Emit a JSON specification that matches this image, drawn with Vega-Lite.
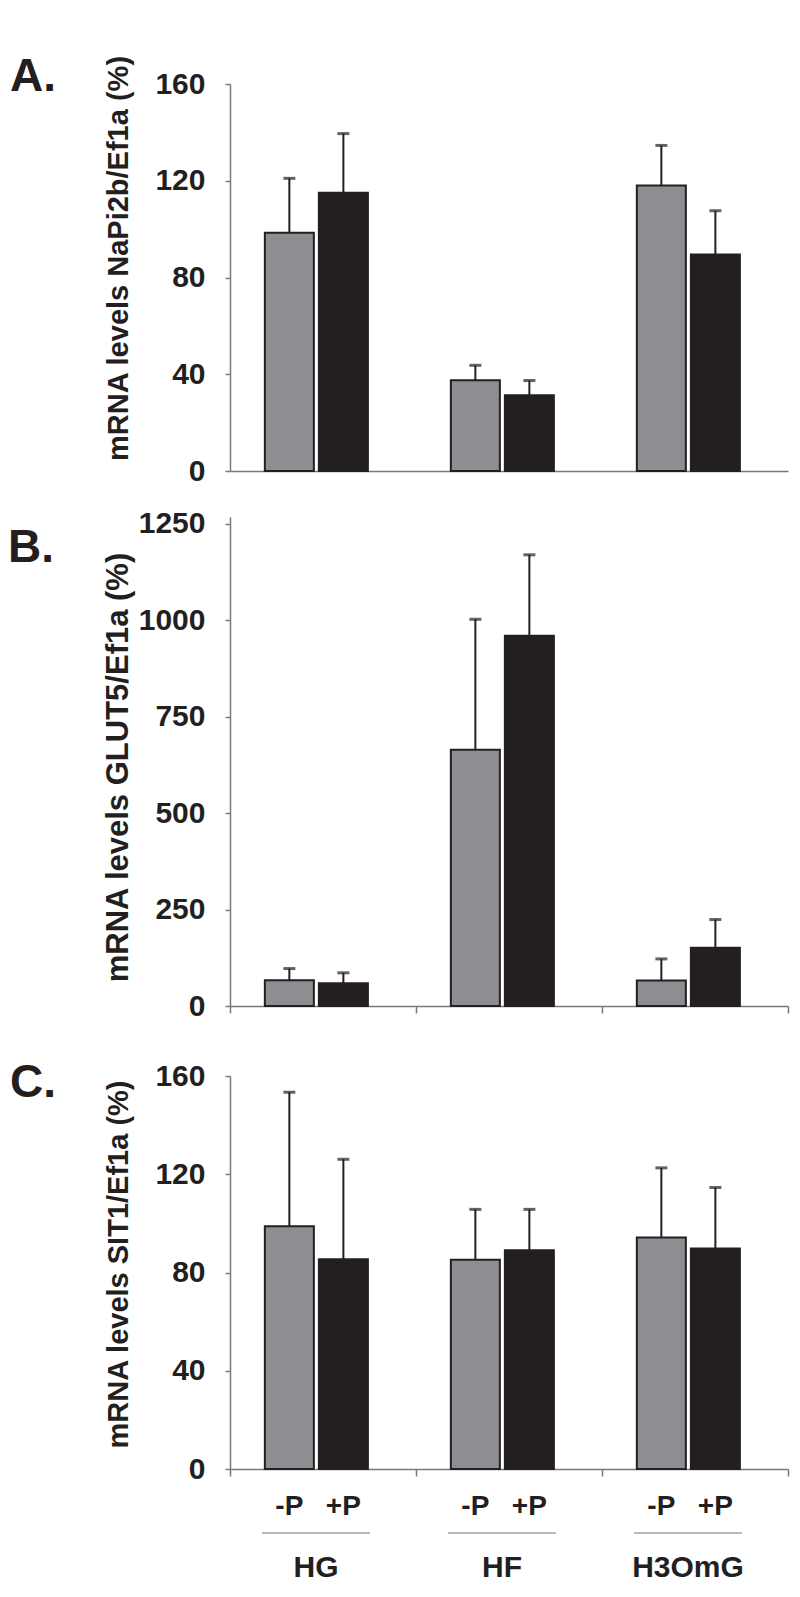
{
  "$schema": "https://vega.github.io/schema/vega-lite/v6.json",
  "padding": {"left": 7, "top": 53, "right": 5, "bottom": 5},
  "background": "white",
  "config": {
    "font": "Liberation Sans",
    "view": {"stroke": null},
    "axis": {
      "labelFont": "Liberation Sans", "labelFontWeight": "bold", "labelFontSize": 30, "labelColor": "#231f20",
      "titleFont": "Liberation Sans", "titleFontWeight": "bold", "titleColor": "#231f20",
      "domainColor": "#7a7a7a", "tickColor": "#7a7a7a", "domainWidth": 1.5, "tickWidth": 1.5, "grid": false
    },
    "title": {
      "font": "Liberation Sans", "fontWeight": "bold", "fontSize": 46, "color": "#231f20",
      "orient": "left", "anchor": "end", "angle": 0, "align": "right", "baseline": "top",
      "frame": "bounds", "offset": 2
    }
  },
  "datasets": {
    "napi": [
      {"diet": "HG", "cond": "-P", "mean": 98.5, "upper": 121},
      {"diet": "HG", "cond": "+P", "mean": 115, "upper": 139.5},
      {"diet": "HF", "cond": "-P", "mean": 37.5, "upper": 43.7},
      {"diet": "HF", "cond": "+P", "mean": 31.3, "upper": 37.4},
      {"diet": "H3OmG", "cond": "-P", "mean": 118, "upper": 134.6},
      {"diet": "H3OmG", "cond": "+P", "mean": 89.5, "upper": 107.6}
    ],
    "glut": [
      {"diet": "HG", "cond": "-P", "mean": 67, "upper": 97},
      {"diet": "HG", "cond": "+P", "mean": 59, "upper": 86},
      {"diet": "HF", "cond": "-P", "mean": 664, "upper": 1002},
      {"diet": "HF", "cond": "+P", "mean": 959, "upper": 1169},
      {"diet": "H3OmG", "cond": "-P", "mean": 66, "upper": 122},
      {"diet": "H3OmG", "cond": "+P", "mean": 151, "upper": 224}
    ],
    "sit": [
      {"diet": "HG", "cond": "-P", "mean": 98.8, "upper": 153.4},
      {"diet": "HG", "cond": "+P", "mean": 85.4, "upper": 126.1},
      {"diet": "HF", "cond": "-P", "mean": 85.2, "upper": 105.7},
      {"diet": "HF", "cond": "+P", "mean": 89.1, "upper": 105.7},
      {"diet": "H3OmG", "cond": "-P", "mean": 94.2, "upper": 122.6},
      {"diet": "H3OmG", "cond": "+P", "mean": 89.8, "upper": 114.6}
    ],
    "condlabels": [
      {"diet": "HG", "cond": "-P"}, {"diet": "HG", "cond": "+P"},
      {"diet": "HF", "cond": "-P"}, {"diet": "HF", "cond": "+P"},
      {"diet": "H3OmG", "cond": "-P"}, {"diet": "H3OmG", "cond": "+P"}
    ],
    "diets": [{"diet": "HG"}, {"diet": "HF"}, {"diet": "H3OmG"}]
  },
  "vconcat": [
    {
      "spacing": 22,
      "vconcat": [
        {
          "data": {"name": "napi"},
          "width": 558, "height": 387,
          "title": {"text": "A."},
          "encoding": {
            "x": {"field": "diet", "type": "nominal", "sort": ["HG", "HF", "H3OmG"],
                  "scale": {"paddingInner": 0, "paddingOuter": 0},
                  "axis": {"title": null, "labels": false, "ticks": false}},
            "xOffset": {"field": "cond", "type": "nominal", "sort": ["-P", "+P"],
                        "scale": {"paddingInner": 0.0926, "paddingOuter": 0.768, "align": 0.42}}
          },
          "layer": [
            {
              "mark": {"type": "bar", "stroke": "#231f20", "strokeWidth": 2},
              "encoding": {
                "y": {"field": "mean", "type": "quantitative", "scale": {"domain": [0, 160]},
                      "axis": {"title": "mRNA levels NaPi2b/Ef1a (%)", "values": [0, 40, 80, 120, 160], "format": "d",
                               "tickSize": 5, "labelPadding": 20, "titleFontSize": 29, "titleX": -103, "titleY": 174,
                               "titleBaseline": "alphabetic", "titleAngle": -90, "titleAlign": "center"}},
                "color": {"field": "cond", "type": "nominal", "scale": {"domain": ["-P", "+P"], "range": ["#8d8e91", "#231f20"]}, "legend": null}
              }
            },
            {
              "mark": {"type": "rule", "color": "#231f20", "strokeWidth": 2},
              "encoding": {"y": {"field": "mean", "type": "quantitative",
                      "axis": {"title": "mRNA levels NaPi2b/Ef1a (%)", "values": [0, 40, 80, 120, 160], "format": "d",
                               "tickSize": 5, "labelPadding": 20, "titleFontSize": 29, "titleX": -103, "titleY": 174,
                               "titleBaseline": "alphabetic", "titleAngle": -90, "titleAlign": "center"}}, "y2": {"field": "upper"}}
            },
            {
              "mark": {"type": "tick", "color": "#231f20", "thickness": 3, "size": 12},
              "encoding": {"y": {"field": "upper", "type": "quantitative",
                      "axis": {"title": "mRNA levels NaPi2b/Ef1a (%)", "values": [0, 40, 80, 120, 160], "format": "d",
                               "tickSize": 5, "labelPadding": 20, "titleFontSize": 29, "titleX": -103, "titleY": 174,
                               "titleBaseline": "alphabetic", "titleAngle": -90, "titleAlign": "center"}}}
            }
          ]
        },
        {
          "data": {"name": "glut"},
          "width": 558, "height": 489,
          "title": {"text": "B.", "dy": 17},
          "encoding": {
            "x": {"field": "diet", "type": "nominal", "sort": ["HG", "HF", "H3OmG"],
                  "scale": {"paddingInner": 0, "paddingOuter": 0},
                  "axis": {"title": null, "labels": false, "ticks": true, "tickBand": "extent", "tickSize": 7}},
            "xOffset": {"field": "cond", "type": "nominal", "sort": ["-P", "+P"],
                        "scale": {"paddingInner": 0.0926, "paddingOuter": 0.768, "align": 0.42}}
          },
          "layer": [
            {
              "mark": {"type": "bar", "stroke": "#231f20", "strokeWidth": 2},
              "encoding": {
                "y": {"field": "mean", "type": "quantitative", "scale": {"domain": [0, 1267], "nice": false},
                      "axis": {"title": "mRNA levels GLUT5/Ef1a (%)", "values": [0, 250, 500, 750, 1000, 1250], "format": "d",
                               "tickSize": 5, "labelPadding": 20, "titleFontSize": 31, "titleX": -103, "titleY": 250,
                               "titleBaseline": "alphabetic", "titleAngle": -90, "titleAlign": "center"}},
                "color": {"field": "cond", "type": "nominal", "scale": {"domain": ["-P", "+P"], "range": ["#8d8e91", "#231f20"]}, "legend": null}
              }
            },
            {
              "mark": {"type": "rule", "color": "#231f20", "strokeWidth": 2},
              "encoding": {"y": {"field": "mean", "type": "quantitative",
                      "axis": {"title": "mRNA levels GLUT5/Ef1a (%)", "values": [0, 250, 500, 750, 1000, 1250], "format": "d",
                               "tickSize": 5, "labelPadding": 20, "titleFontSize": 31, "titleX": -103, "titleY": 250,
                               "titleBaseline": "alphabetic", "titleAngle": -90, "titleAlign": "center"}}, "y2": {"field": "upper"}}
            },
            {
              "mark": {"type": "tick", "color": "#231f20", "thickness": 3, "size": 12},
              "encoding": {"y": {"field": "upper", "type": "quantitative",
                      "axis": {"title": "mRNA levels GLUT5/Ef1a (%)", "values": [0, 250, 500, 750, 1000, 1250], "format": "d",
                               "tickSize": 5, "labelPadding": 20, "titleFontSize": 31, "titleX": -103, "titleY": 250,
                               "titleBaseline": "alphabetic", "titleAngle": -90, "titleAlign": "center"}}}
            }
          ]
        }
      ]
    },
    {
      "spacing": 9,
      "vconcat": [
        {
          "data": {"name": "sit"},
          "width": 558, "height": 393,
          "title": {"text": "C."},
          "encoding": {
            "x": {"field": "diet", "type": "nominal", "sort": ["HG", "HF", "H3OmG"],
                  "scale": {"paddingInner": 0, "paddingOuter": 0},
                  "axis": {"title": null, "labels": false, "ticks": true, "tickBand": "extent", "tickSize": 7}},
            "xOffset": {"field": "cond", "type": "nominal", "sort": ["-P", "+P"],
                        "scale": {"paddingInner": 0.0926, "paddingOuter": 0.768, "align": 0.42}}
          },
          "layer": [
            {
              "mark": {"type": "bar", "stroke": "#231f20", "strokeWidth": 2},
              "encoding": {
                "y": {"field": "mean", "type": "quantitative", "scale": {"domain": [0, 160]},
                      "axis": {"title": "mRNA levels SIT1/Ef1a (%)", "values": [0, 40, 80, 120, 160], "format": "d",
                               "tickSize": 5, "labelPadding": 20, "titleFontSize": 29, "titleX": -103, "titleY": 188,
                               "titleBaseline": "alphabetic", "titleAngle": -90, "titleAlign": "center"}},
                "color": {"field": "cond", "type": "nominal", "scale": {"domain": ["-P", "+P"], "range": ["#8d8e91", "#231f20"]}, "legend": null}
              }
            },
            {
              "mark": {"type": "rule", "color": "#231f20", "strokeWidth": 2},
              "encoding": {"y": {"field": "mean", "type": "quantitative",
                      "axis": {"title": "mRNA levels SIT1/Ef1a (%)", "values": [0, 40, 80, 120, 160], "format": "d",
                               "tickSize": 5, "labelPadding": 20, "titleFontSize": 29, "titleX": -103, "titleY": 188,
                               "titleBaseline": "alphabetic", "titleAngle": -90, "titleAlign": "center"}}, "y2": {"field": "upper"}}
            },
            {
              "mark": {"type": "tick", "color": "#231f20", "thickness": 3, "size": 12},
              "encoding": {"y": {"field": "upper", "type": "quantitative",
                      "axis": {"title": "mRNA levels SIT1/Ef1a (%)", "values": [0, 40, 80, 120, 160], "format": "d",
                               "tickSize": 5, "labelPadding": 20, "titleFontSize": 29, "titleX": -103, "titleY": 188,
                               "titleBaseline": "alphabetic", "titleAngle": -90, "titleAlign": "center"}}}
            }
          ]
        },
        {
          "width": 558, "height": 62,
          "encoding": {
            "x": {"field": "diet", "type": "nominal", "sort": ["HG", "HF", "H3OmG"],
                  "scale": {"paddingInner": 0, "paddingOuter": 0}, "axis": null}
          },
          "layer": [
            {
              "data": {"name": "condlabels"},
              "mark": {"type": "text", "fontSize": 28, "fontWeight": "bold", "baseline": "alphabetic", "color": "#231f20"},
              "encoding": {
                "xOffset": {"field": "cond", "type": "nominal", "sort": ["-P", "+P"],
                            "scale": {"paddingInner": 0.0926, "paddingOuter": 0.768, "align": 0.42}},
                "y": {"datum": "cond", "type": "nominal", "scale": {"type": "point", "domain": ["cond", "line", "group"], "padding": 0}, "axis": null},
                "text": {"field": "cond"}
              }
            },
            {
              "data": {"name": "diets"},
              "mark": {"type": "tick", "orient": "horizontal", "color": "#7a7a7a", "thickness": 1.5, "size": 108, "xOffset": -7, "yOffset": -13},
              "encoding": {
                "y": {"datum": "line", "type": "nominal", "axis": null}
              }
            },
            {
              "data": {"name": "diets"},
              "mark": {"type": "text", "fontSize": 30, "fontWeight": "bold", "baseline": "alphabetic", "color": "#231f20", "xOffset": -7},
              "encoding": {
                "y": {"datum": "group", "type": "nominal", "axis": null},
                "text": {"field": "diet"}
              }
            }
          ]
        }
      ]
    }
  ],
  "spacing": 39
}
